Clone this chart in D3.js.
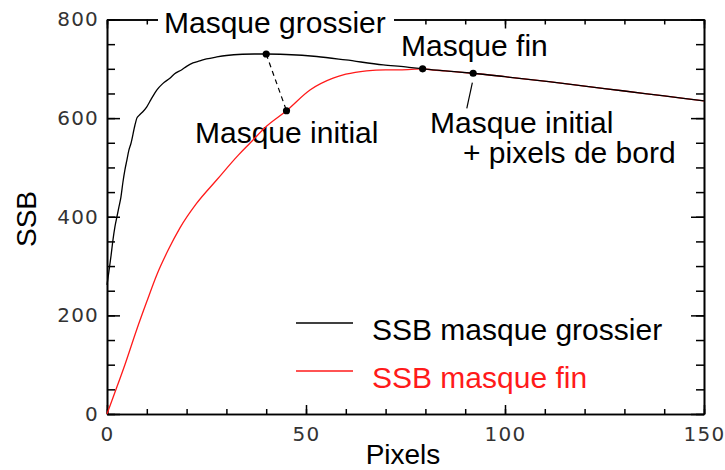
<!DOCTYPE html>
<html>
<head>
<meta charset="utf-8">
<script src="https://cdn.jsdelivr.net/npm/d3@7"></script>
<style>
  html, body { margin: 0; padding: 0; background: #fff; }
  svg { display: block; }
  .tick text { font-family: "DejaVu Sans", sans-serif; font-size: 20px; fill: #333; letter-spacing: 1.2px; }
  .lbl { font-family: "Liberation Sans", Arial, sans-serif; font-size: 30px; fill: #000; }
</style>
</head>
<body>
<svg id="chart" width="725" height="470"></svg>
<script>
// ---- Data ----
const coarseX = [0, 0.5, 1, 1.5, 2, 2.5, 3, 3.5, 4, 4.5, 5, 5.5, 6, 7, 7.5, 8, 9, 10, 11, 12.5, 14, 15.8, 17, 18.8, 20, 21.6, 23.3, 25, 27.6, 30, 34, 37, 40, 45, 52.7, 60, 69.4, 75, 79.3, 85, 92, 100, 111, 120, 130, 140, 150];
const coarseY = [262, 290, 320, 353, 380, 400, 420, 440, 470, 495, 515, 535, 548, 585, 600, 605, 613, 623, 637, 657, 670, 681, 690, 698, 705, 712, 716, 720, 724, 727, 729.5, 730, 730, 729, 725, 718, 708, 704, 700, 696, 691, 684, 674, 665, 655, 645, 635];

const fineX = [0, 2, 4.5, 7.5, 10, 12.5, 15.4, 18.3, 22.5, 27.6, 33, 35.9, 40, 45.1, 51, 56.8, 60, 65.2, 70, 73.6, 79.3, 82, 85, 92, 100, 111, 120, 130, 140, 150];
const fineY = [0, 44, 100, 172, 228, 282, 333, 377, 427, 475, 525, 549, 583, 615, 657, 681, 689, 696, 698, 698, 700, 697.5, 696, 691, 684, 674, 665, 655, 645, 635];

const seriesNames = ["SSB masque grossier", "SSB masque fin"];
const seriesColors = ["#000000", "#ff1a1a"];

const xMajorTicks = [0, 50, 100, 150];
const xMinorTicks = d3.range(0, 151, 10);
const yMajorTicks = [0, 200, 400, 600, 800];
const yMinorTicks = d3.range(0, 801, 50);

// annotation points (data coordinates)
const markX = [40, 45.1, 79.3, 92];
const markY = [730, 615, 700, 691];
const markLabels = ["Masque grossier", "Masque initial", "Masque fin", "Masque initial\n+ pixels de bord"];

// ---- Chart ----
const svg = d3.select("#chart");
const x = d3.scaleLinear().domain([0, 150]).range([107, 704]);
const y = d3.scaleLinear().domain([0, 800]).range([414, 19.5]);

function styleAxis(g) {
  g.selectAll("path.domain").attr("stroke", "#000").attr("stroke-width", 1.6);
  g.selectAll(".tick line").attr("stroke", "#000").attr("stroke-width", 1.5);
}

// minor ticks
svg.append("g").attr("transform", `translate(0,${y(0)})`)
  .call(d3.axisBottom(x).tickValues(xMinorTicks).tickSizeInner(-5).tickSizeOuter(0).tickFormat(""))
  .call(styleAxis);
svg.append("g").attr("transform", `translate(0,${y(800)})`)
  .call(d3.axisTop(x).tickValues(xMinorTicks).tickSizeInner(-5).tickSizeOuter(0).tickFormat(""))
  .call(styleAxis);
svg.append("g").attr("transform", `translate(${x(0)},0)`)
  .call(d3.axisLeft(y).tickValues(yMinorTicks).tickSizeInner(-8).tickSizeOuter(0).tickFormat(""))
  .call(styleAxis);
svg.append("g").attr("transform", `translate(${x(150)},0)`)
  .call(d3.axisRight(y).tickValues(yMinorTicks).tickSizeInner(-8).tickSizeOuter(0).tickFormat(""))
  .call(styleAxis);

// major ticks
svg.append("g").attr("transform", `translate(0,${y(0)})`)
  .call(d3.axisBottom(x).tickValues(xMajorTicks).tickSizeInner(-9).tickSizeOuter(0).tickPadding(13).tickFormat(d3.format("d")))
  .call(styleAxis)
  .call(g => g.selectAll(".tick text").attr("fill", "#333"));
svg.append("g").attr("transform", `translate(0,${y(800)})`)
  .call(d3.axisTop(x).tickValues(xMajorTicks).tickSizeInner(-9).tickSizeOuter(0).tickFormat(""))
  .call(styleAxis);
svg.append("g").attr("transform", `translate(${x(0)},0)`)
  .call(d3.axisLeft(y).tickValues(yMajorTicks).tickSizeInner(-13).tickSizeOuter(0).tickPadding(8).tickFormat(d3.format("d")))
  .call(styleAxis)
  .call(g => g.selectAll(".tick text").attr("fill", "#333"));
svg.append("g").attr("transform", `translate(${x(150)},0)`)
  .call(d3.axisRight(y).tickValues(yMajorTicks).tickSizeInner(-13).tickSizeOuter(0).tickFormat(""))
  .call(styleAxis);

// axis titles
svg.append("text").attr("class", "lbl").attr("x", 403).attr("y", 464)
  .attr("text-anchor", "middle").style("font-size", "28px").text("Pixels");
svg.append("text").attr("class", "lbl").attr("transform", "translate(36,219) rotate(-90)")
  .attr("text-anchor", "middle").style("font-size", "28px").text("SSB");

// annotation: "Masque grossier" with white box over top axis
svg.append("rect").attr("x", 158).attr("y", 6).attr("width", 236).attr("height", 34).attr("fill", "#fff");
svg.append("text").attr("class", "lbl").attr("x", 164).attr("y", 33).text(markLabels[0]);
svg.append("text").attr("class", "lbl").attr("x", 195).attr("y", 143).text(markLabels[1]);
svg.append("text").attr("class", "lbl").attr("x", 401).attr("y", 56).text(markLabels[2]);
const ml = markLabels[3].split("\n");
svg.append("text").attr("class", "lbl").attr("x", 430).attr("y", 133).text(ml[0]);
svg.append("text").attr("class", "lbl").attr("x", 463).attr("y", 163).text(ml[1]);

// leader lines
svg.append("line")
  .attr("x1", x(markX[0])).attr("y1", y(markY[0]))
  .attr("x2", x(markX[1])).attr("y2", y(markY[1]))
  .attr("stroke", "#000").attr("stroke-width", 1.2).attr("stroke-dasharray", "5,4");
svg.append("line")
  .attr("x1", x(91.8)).attr("y1", y(672))
  .attr("x2", x(90.4)).attr("y2", y(620))
  .attr("stroke", "#000").attr("stroke-width", 1.2);

// curves
const line = d3.line().curve(d3.curveMonotoneX).x(d => x(d[0])).y(d => y(d[1]));
svg.append("path").datum(d3.zip(fineX, fineY)).attr("d", line)
  .attr("fill", "none").attr("stroke", seriesColors[1]).attr("stroke-width", 1.3);
svg.append("path").datum(d3.zip(coarseX, coarseY)).attr("d", line)
  .attr("fill", "none").attr("stroke", seriesColors[0]).attr("stroke-width", 1.3);

// marker dots
svg.selectAll("circle.mark").data(d3.zip(markX, markY)).join("circle")
  .attr("class", "mark").attr("cx", d => x(d[0])).attr("cy", d => y(d[1])).attr("r", 3.6).attr("fill", "#000");

// legend
const legY = [323, 371];
seriesNames.forEach((name, i) => {
  svg.append("line").attr("x1", 296).attr("x2", 353).attr("y1", legY[i]).attr("y2", legY[i])
    .attr("stroke", seriesColors[i]).attr("stroke-width", 1.3);
  svg.append("text").attr("class", "lbl").attr("x", 372).attr("y", legY[i] + 17)
    .style("fill", seriesColors[i]).text(name);
});
</script>
</body>
</html>
